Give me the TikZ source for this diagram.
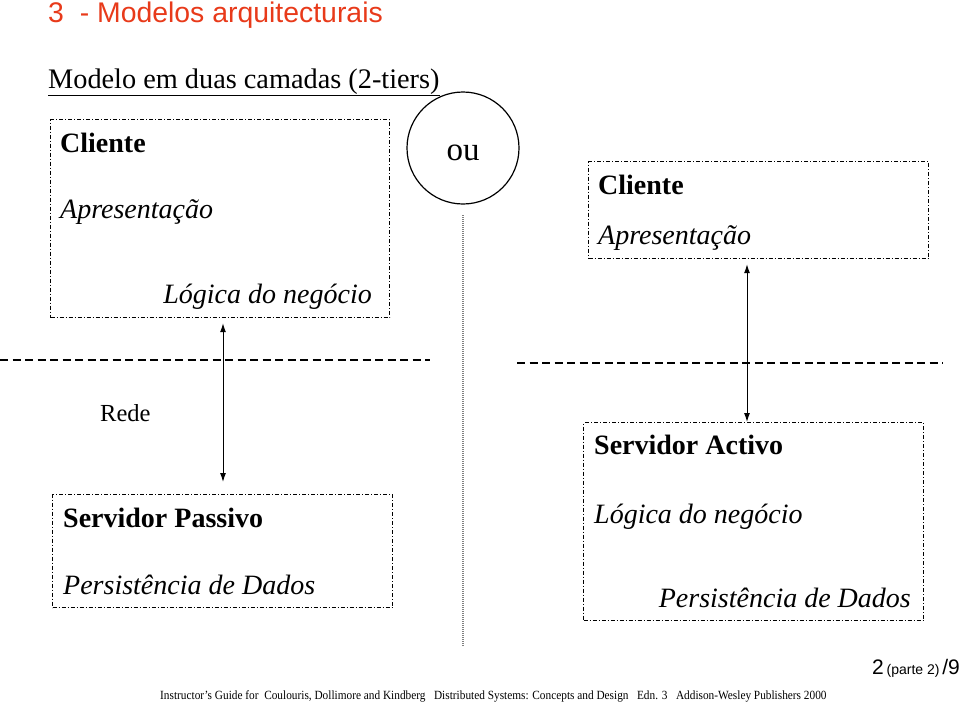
\documentclass[tikz,border=0pt]{standalone}
\usepackage{fontspec}
\setmainfont{Liberation Serif}
\newfontfamily\arialfont{Liberation Sans}
\usetikzlibrary{arrows.meta,positioning}

\definecolor{titlered}{RGB}{232,58,26}

\begin{document}
\begin{tikzpicture}[
  x=1pt,y=-1pt,
  >={Latex[length=9pt,width=6pt]},
  tier/.style={draw,line width=1.2pt,dash pattern=on 4pt off 2pt on 1pt off 2pt,inner sep=0pt,anchor=north west},
  lbl/.style={inner sep=0pt,font=\fontsize{28}{33}\selectfont},
  bold/.style={lbl,font=\fontsize{28}{33}\selectfont\bfseries},
  ital/.style={lbl,font=\fontsize{28}{33}\selectfont\itshape},
  rede/.style={<->,line width=1pt},
  net/.style={line width=2.6pt,dash pattern=on 8pt off 4.5pt}
]
\useasboundingbox (0,0) rectangle (960,702);

% title
\node[anchor=base west,inner sep=0pt,text=titlered,font=\arialfont\fontsize{28.4}{33}\selectfont] (title) at (48,22) {3\ \ - Modelos arquitecturais};
\node[lbl,font=\fontsize{28.3}{33}\selectfont,anchor=base west] (sub) at (48,88) {\underline{Modelo em duas camadas (2-tiers)}};

% left: thin client
\node[tier,minimum width=339pt,minimum height=198pt] (cliA) at (50,119) {};
\node[bold,anchor=base west] (cliAt) at (60,152) {Cliente};
\node[ital,anchor=base west] (cliAp) at (60,218) {Apresentação};
\node[ital,anchor=base east] (cliAl) at (372,303) {Lógica do negócio};

\node[tier,minimum width=340pt,minimum height=113pt] (servP) at (52,494) {};
\node[bold,anchor=base west] (servPt) at (63,527) {Servidor Passivo};
\node[ital,anchor=base west] (servPd) at (63,594) {Persistência de Dados};

% "ou"
\node[draw,circle,line width=1.2pt,minimum size=112pt,inner sep=0pt] (ou) at (463,148) {};
\node[lbl,font=\fontsize{33}{38}\selectfont,anchor=base] (out) at (463,160) {ou};
\draw[gray,line width=1.4pt,dash pattern=on 1pt off 1pt] (463,215) coordinate (sepT) -- (463,647) coordinate (sepB);

% right: thick client
\node[tier,minimum width=340pt,minimum height=97pt] (cliB) at (588,161) {};
\node[bold,anchor=base west] (cliBt) at (598,194) {Cliente};
\node[ital,anchor=base west] (cliBp) at (598,244) {Apresentação};

\node[tier,minimum width=340pt,minimum height=198pt] (servA) at (583,422) {};
\node[bold,anchor=base west] (servAt) at (594,454) {Servidor Activo};
\node[ital,anchor=base west] (servAl) at (594,523) {Lógica do negócio};
\node[ital,anchor=base east] (servAd) at (911,607) {Persistência de Dados};

% network
\draw[net] (0,360) coordinate (netA1) -- (430,360) coordinate (netA2);
\draw[net] (517,363) coordinate (netB1) -- (943,363) coordinate (netB2);
\node[lbl,font=\fontsize{24.5}{28}\selectfont,anchor=base west] (rede) at (100,421) {Rede};

\coordinate (xa) at (223,0);
\coordinate (xb) at (747,0);
\draw[rede] ([yshift=-5pt]cliA.south -| xa) -- ([yshift=12pt]servP.north -| xa);
\draw[rede] ([yshift=-5pt]cliB.south -| xb) -- (servA.north -| xb);

% footer
\node[inner sep=0pt,anchor=base west,font=\fontsize{12.5}{14}\selectfont] (foot) at (160,699) {\scalebox{0.905}[1]{Instructor’s Guide for\ \ Coulouris, Dollimore and Kindberg\ \ \ Distributed Systems: Concepts and Design\ \ \ Edn. 3\ \ \ Addison-Wesley Publishers 2000}};
\node[inner sep=0pt,anchor=base east,font=\arialfont] (page) at (960,674) {{\fontsize{21}{24}\selectfont 2} {\fontsize{14}{16}\selectfont(parte 2)} {\fontsize{21}{24}\selectfont /9}};
\end{tikzpicture}
\end{document}
